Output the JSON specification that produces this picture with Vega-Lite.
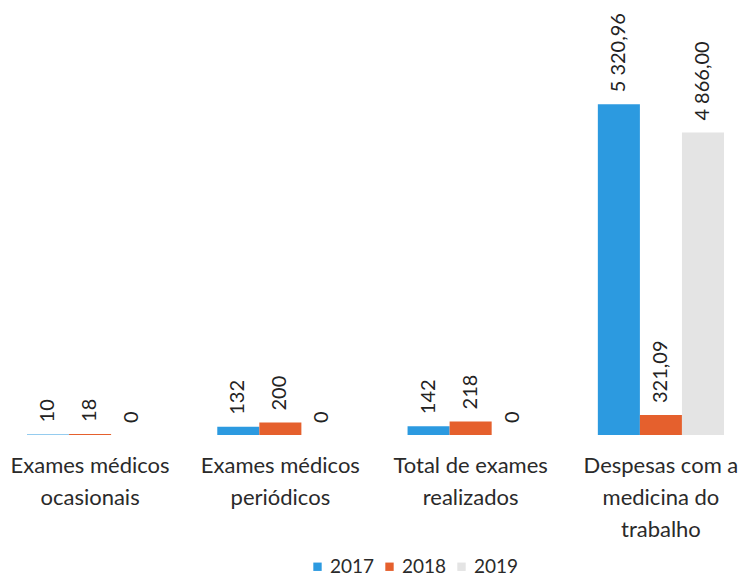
{
  "$schema": "https://vega.github.io/schema/vega-lite/v6.json",
  "width": 697,
  "height": 435,
  "autosize": {"type": "none"},
  "padding": {"left": 27, "top": 0, "right": 17, "bottom": 143},
  "background": "white",
  "config": {"view": {"stroke": null}, "font": "Lato"},
  "data": {
    "values": [
      {"cat": "Exames médicos ocasionais", "year": "2017", "value": 10, "label": "10"},
      {"cat": "Exames médicos ocasionais", "year": "2018", "value": 18, "label": "18"},
      {"cat": "Exames médicos ocasionais", "year": "2019", "value": 0, "label": "0"},
      {"cat": "Exames médicos periódicos", "year": "2017", "value": 132, "label": "132"},
      {"cat": "Exames médicos periódicos", "year": "2018", "value": 200, "label": "200"},
      {"cat": "Exames médicos periódicos", "year": "2019", "value": 0, "label": "0"},
      {"cat": "Total de exames realizados", "year": "2017", "value": 142, "label": "142"},
      {"cat": "Total de exames realizados", "year": "2018", "value": 218, "label": "218"},
      {"cat": "Total de exames realizados", "year": "2019", "value": 0, "label": "0"},
      {"cat": "Despesas com a medicina do trabalho", "year": "2017", "value": 5320.96, "label": "5 320,96"},
      {"cat": "Despesas com a medicina do trabalho", "year": "2018", "value": 321.09, "label": "321,09"},
      {"cat": "Despesas com a medicina do trabalho", "year": "2019", "value": 4866.0, "label": "4 866,00"}
    ]
  },
  "encoding": {
    "x": {
      "field": "cat",
      "type": "nominal",
      "sort": ["Exames médicos ocasionais", "Exames médicos periódicos", "Total de exames realizados", "Despesas com a medicina do trabalho"],
      "scale": {"paddingInner": 0.337, "paddingOuter": 0},
      "axis": {
        "title": null,
        "domain": false,
        "ticks": false,
        "labelAngle": 0,
        "labelFontSize": 22,
        "labelColor": "#2a2a2a",
        "labelPadding": 20,
        "labelLineHeight": 32,
        "labelLimit": 300,
        "labelExpr": "datum.value == 'Exames médicos ocasionais' ? ['Exames médicos', 'ocasionais'] : datum.value == 'Exames médicos periódicos' ? ['Exames médicos', 'periódicos'] : datum.value == 'Total de exames realizados' ? ['Total de exames', 'realizados'] : ['Despesas com a', 'medicina do', 'trabalho']"
      }
    },
    "xOffset": {"field": "year", "type": "nominal", "scale": {"paddingInner": 0, "paddingOuter": 0}},
    "y": {"field": "value", "type": "quantitative", "scale": {"domain": [0, 7000], "nice": false}, "axis": null}
  },
  "layer": [
    {
      "mark": {"type": "bar"},
      "encoding": {
        "color": {
          "field": "year",
          "type": "nominal",
          "scale": {"domain": ["2017", "2018", "2019"], "range": ["#2c9ae0", "#e5602d", "#e4e4e4"]},
          "legend": {
            "title": null,
            "orient": "none",
            "direction": "horizontal",
            "legendX": 281,
            "legendY": 557,
            "labelFontSize": 19,
            "labelColor": "#2a2a2a",
            "symbolType": "square",
            "symbolSize": 70,
            "symbolStrokeWidth": 0,
            "columnPadding": 5,
            "labelOffset": 3
          }
        }
      }
    },
    {
      "mark": {"type": "text", "angle": 270, "align": "left", "baseline": "middle", "dx": 12, "fontSize": 20, "color": "#222222"},
      "encoding": {"text": {"field": "label"}}
    }
  ]
}
